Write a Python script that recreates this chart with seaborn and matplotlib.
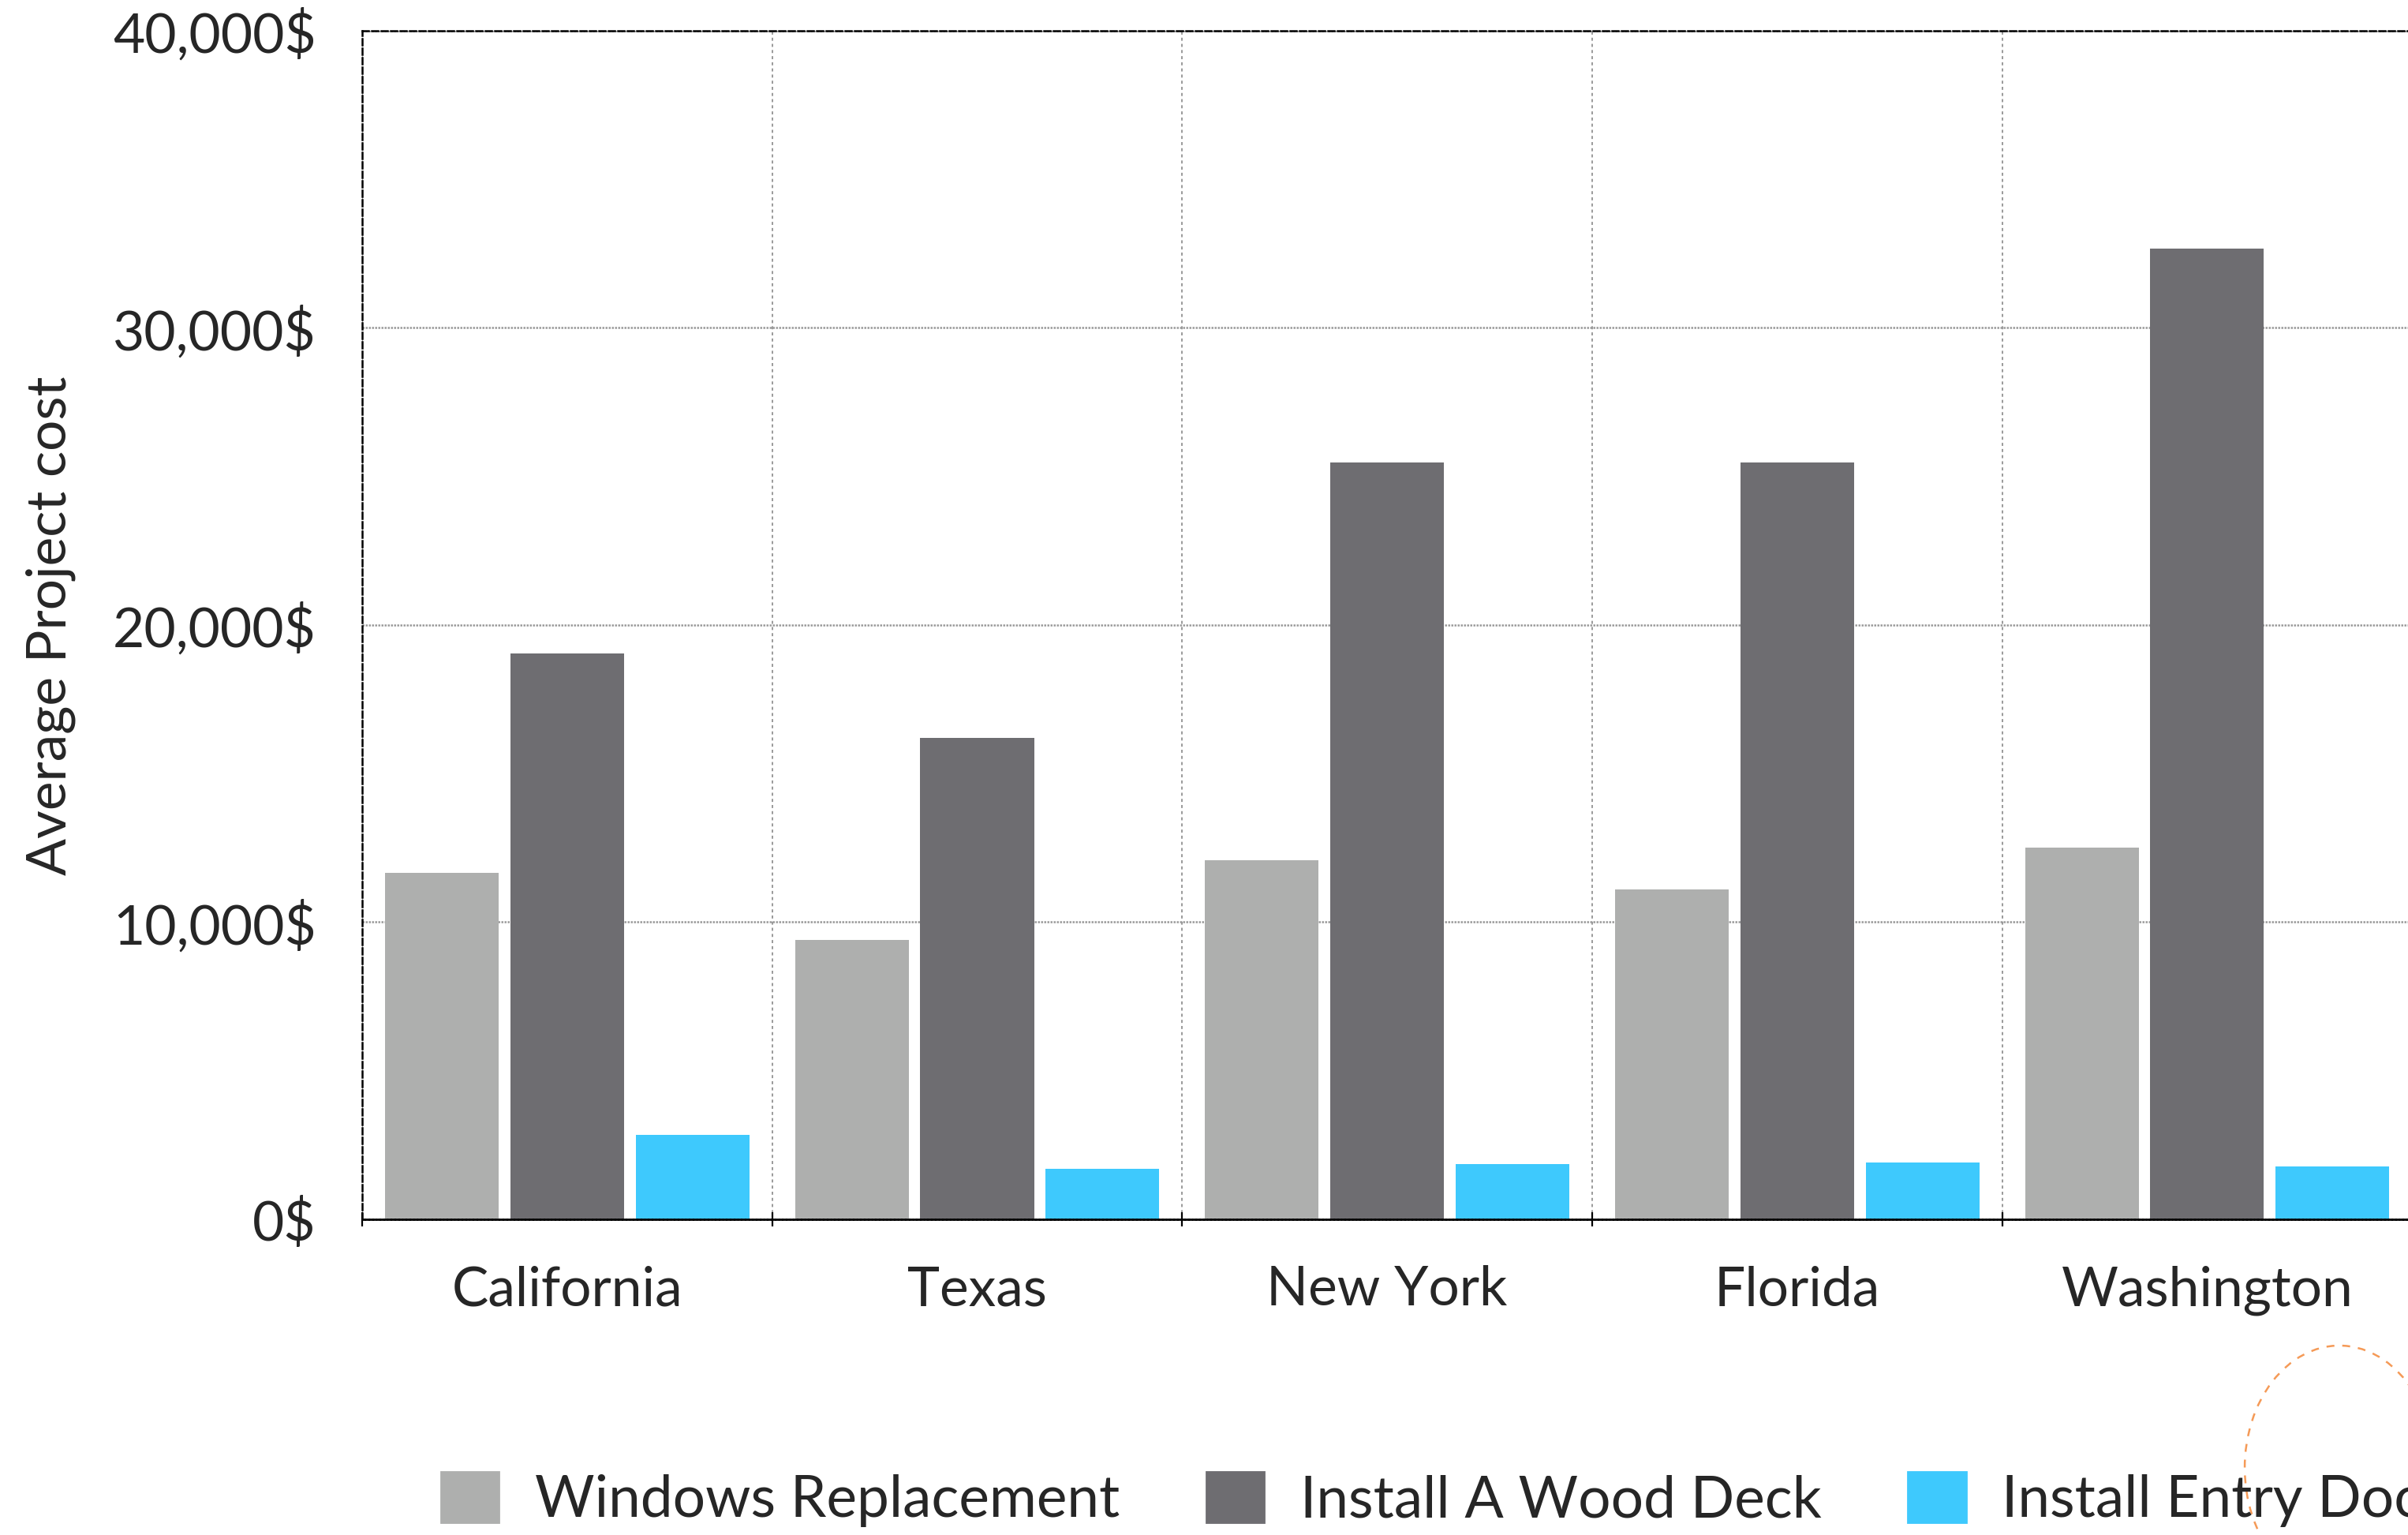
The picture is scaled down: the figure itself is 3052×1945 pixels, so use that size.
import pandas as pd
import numpy as np
import matplotlib.pyplot as plt
import matplotlib.patches as mpatches
from matplotlib.ticker import FuncFormatter, FixedLocator
import seaborn as sns

# Average project cost per state
states = ["California", "Texas", "New York", "Florida", "Washington"]
projects = ["Windows Replacement", "Install A Wood Deck", "Install Entry Door"]
windows_cost = [11650, 9400, 12070, 11090, 12500]
deck_cost = [19040, 16200, 25480, 25480, 32660]
entry_cost = [2850, 1700, 1860, 1910, 1780]
colors = ["#AEAFAE", "#6E6D71", "#3EC9FD"]
y_ticks = [0, 10000, 20000, 30000, 40000]

df = pd.DataFrame({
    "state": states * 3,
    "project": [p for p in projects for _ in states],
    "cost": windows_cost + deck_cost + entry_cost,
})

sns.set_style("white")
plt.rcParams["font.family"] = ["Lato", "DejaVu Sans"]

fig = plt.figure(figsize=(15.26, 9.725), dpi=200)
ax = fig.add_axes([0.1504, 0.2057, 0.8513, 0.7743])

sns.barplot(data=df, x="state", y="cost", hue="project", palette=colors,
            saturation=1, width=0.917, gap=0.093, legend=False, ax=ax,
            errorbar=None, linewidth=0)

ax.set_xlim(-0.5, len(states) - 0.5)
ax.set_ylim(0, 40000)
ax.set_yticks(y_ticks)
ax.yaxis.set_major_formatter(FuncFormatter(lambda v, _: f"{int(v):,}$"))
ax.set_xlabel("")
ax.set_ylabel("")

# category boundaries: minor ticks + vertical grid
ax.xaxis.set_minor_locator(FixedLocator(np.arange(-0.5, len(states), 1.0)))
ax.tick_params(axis="x", which="major", length=0, pad=21, labelsize=25)
ax.tick_params(axis="x", which="minor", length=6.5, width=0.8, direction="inout", color="black", bottom=True)
ax.tick_params(axis="y", which="major", length=0, pad=21, labelsize=25)

ax.grid(False)
ax.grid(which="minor", axis="x", color="#9a9a9a", linestyle=(0, (2, 2)), linewidth=0.7)
ax.grid(which="major", axis="y", color="#9a9a9a", linestyle=(0, (1, 0.6)), linewidth=0.9)
ax.set_axisbelow(True)

for side in ["top", "left"]:
    ax.spines[side].set_linestyle((0, (3.2, 1.6)))
    ax.spines[side].set_linewidth(0.9)
    ax.spines[side].set_color("black")
ax.spines["bottom"].set_linestyle((0, (1, 0.7)))
ax.spines["bottom"].set_linewidth(1.0)
ax.spines["bottom"].set_color("black")
ax.spines["right"].set_visible(False)

fig.text(64 / 3052, 1 - 793 / 1945, "Average Project cost", rotation=90,
         ha="center", va="center", fontsize=25)

handles = [mpatches.Patch(color=c, label=p) for c, p in zip(colors, projects)]
fig.legend(handles=handles, loc="lower left", bbox_to_anchor=(287 / 1568, 5 / 999),
           ncol=3, frameon=False, borderpad=0, fontsize=26.3, handlelength=1.01,
           handleheight=0.96, handletextpad=0.62, columnspacing=1.5, borderaxespad=0)

# decorative dashed arc at the bottom right
arc = mpatches.Ellipse((0.9715, 0.0437), 0.0786, 0.1594, transform=fig.transFigure,
                       fill=False, edgecolor="#F59A57", linewidth=0.9, linestyle=(0, (4, 4)))
fig.add_artist(arc)

fig.savefig("out.png", dpi=200)
